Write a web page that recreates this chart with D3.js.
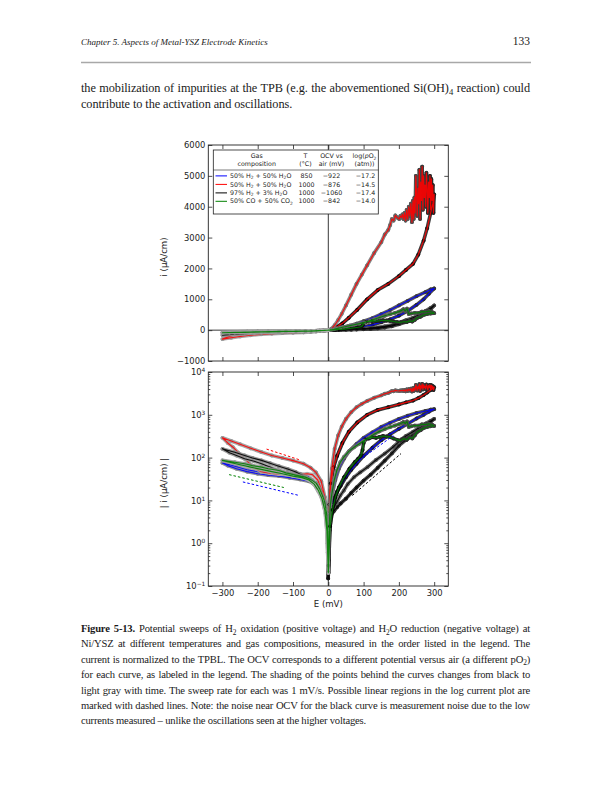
<!DOCTYPE html>
<html><head><meta charset="utf-8">
<script src="https://cdn.jsdelivr.net/npm/d3@7"></script>
<style>body{margin:0;background:#fff}svg{display:block}</style>
</head><body>
<svg id="page" width="612" height="792"></svg>
<script>
// ---------------- DATA ----------------
const xTicks = [-300,-200,-100,0,100,200,300];
const yTicksLin = [-1000,0,1000,2000,3000,4000,5000,6000];
const yTicksLog = [0.1,1,10,100,1000,10000];

const seriesColors = ["#0000ff","#ff0000","#000000","#008000"];
const legendNames = [
  [{t:"50% H"},{t:"2",sub:1},{t:" + 50% H"},{t:"2",sub:1},{t:"O"}],
  [{t:"50% H"},{t:"2",sub:1},{t:" + 50% H"},{t:"2",sub:1},{t:"O"}],
  [{t:"97% H"},{t:"2",sub:1},{t:" + 3% H"},{t:"2",sub:1},{t:"O"}],
  [{t:"50% CO + 50% CO"},{t:"2",sub:1}]
];
const legendT = ["850","1000","1000","1000"];
const legendOCV = ["\u2212922","\u2212876","\u22121060","\u2212842"];
const legendPO2 = ["\u221217.2","\u221214.5","\u221217.4","\u221214.0"];

// Blue: 50% H2 + 50% H2O, 850 C   (E in mV, i in uA/cm)
const blueFwdE = [0,3,8,15,25,35,50,65,80,100,125,150,175,200,225,250,270,285,300];
const blueFwdI = [0.3,2,6,10,16,22,35,52,72,110,170,255,350,470,620,820,1000,1180,1350];
const blueRetE = [290,275,250,225,200,175,150,125,100,80,60,45,30,20,12,6,2,0];
const blueRetI = [1320,1230,1100,950,800,650,520,390,290,210,145,95,55,30,15,6,1.5,0.2];
const blueCatE = [-2,-5,-10,-20,-35,-55,-80,-110,-140,-170,-200,-230,-260,-285,-300,-285,-260,-230,-200,-170,-140,-110,-80,-60,-45,-30,-18,-8,-3,0];
const blueCatI = [-1.5,-4,-8,-15,-23,-28,-31,-34,-37,-39,-42,-47,-55,-65,-75,-70,-61,-52,-47,-44,-43,-42,-42,-38,-30,-22,-13,-5,-1.5,-0.2];

// Red: 50% H2 + 50% H2O, 1000 C
const redFwdE = [0,3,7,15,25,40,58,82,110,140,170,200,220,240,255,270,280,290,296,300];
const redFwdI = [0.3,8,25,60,110,220,400,660,1000,1300,1500,1750,1950,2150,2450,2900,3300,3800,4100,4400];
const redNoiseE = [298,296,294,292,290,288,286,284,282,280,278,276,274,272,270,268,266,264,262,260,258,256,254,252,250,248,246,244,242,240,237,234,231,228,225,222,219,216,213,210,207,204,201];
const redNoiseI = [3800,4700,4200,4900,3900,5000,4300,4800,3800,4600,5100,4000,4700,4300,5000,3900,5300,4200,4800,3600,5200,4100,4600,3700,4400,5000,3800,4300,3600,4200,3500,4100,3700,4000,3600,3900,3550,3800,3600,3750,3650,3700,3600];
const redRetE = [195,190,185,180,175,170,160,150,130,110,95,80,65,50,38,28,18,10,5,2,0];
const redRetI = [3650,3720,3550,3600,3400,3250,3100,2850,2500,2100,1800,1500,1150,800,530,330,160,55,20,5,0.3];
const redCatE = [-2,-5,-10,-20,-35,-50,-70,-100,-130,-160,-190,-220,-250,-275,-300,-285,-270,-255,-240,-225,-210,-190,-165,-140,-110,-80,-60,-45,-30,-18,-8,-3,0];
const redCatI = [-1,-5,-12,-28,-45,-58,-72,-85,-98,-112,-135,-165,-205,-245,-290,-220,-175,-130,-100,-75,-58,-47,-43,-41,-40,-40,-42,-40,-30,-17,-6,-1.5,-0.2];

// Black: 97% H2 + 3% H2O, 1000 C (with OCV noise)
const blackNoiseE = [0.4,-0.8,1.2,-1.5,0.3,2,-2.5,1,-0.3,0.6];
const blackNoiseI = [1.5,-3,4,-0.6,0.2,2.5,-5,0.4,-0.15,0.8];
const blackFwdE = [2,5,10,15,25,35,50,65,80,100,120,140,160,180,200,220,240,260,280,290,300];
const blackFwdI = [2,4,5,5.5,7,8.5,11,15,20,29,40,58,85,125,190,260,340,440,580,680,800];
const blackRetE = [290,275,257,240,220,208,185,160,135,111,90,73,55,44,34,24,16,12,8,4,1,0];
const blackRetI = [720,620,500,400,320,270,180,124,88,60,45,35,24,17,13,9,7,5.5,4,2,0.5,0.2];
const blackCatE = [-2,-5,-10,-15,-25,-35,-50,-63,-80,-92,-115,-140,-165,-189,-215,-237,-265,-300,-280,-260,-237,-210,-189,-165,-140,-115,-92,-70,-53,-40,-30,-20,-12,-6,-2,0];
const blackCatI = [-2,-5,-8,-10,-16,-21,-29,-35,-41,-46,-54,-63,-74,-86,-98,-112,-133,-160,-130,-112,-94,-82,-72,-60,-50,-44,-39,-34,-30,-24,-17,-12,-7,-4,-1.2,-0.2];

// Green: 50% CO + 50% CO2, 1000 C
const greenFwdE = [0,5,12,20,30,45,60,75,85,92,97,100,105,115,125,135,145,155,165,175,185,195,205,214,222,230,238,245,252,262,272,280,290,300];
const greenFwdI = [0.2,2.5,6,12,20,35,55,78,95,110,150,220,265,280,300,290,305,320,310,300,280,260,250,280,260,300,280,330,400,440,500,520,540,550];
const greenRetE = [295,285,275,265,257,245,235,228,223,218,213,208,200,189,175,160,145,131,117,102,88,73,58,44,34,24,17,10,6,3,0];
const greenRetI = [580,620,590,600,560,560,540,520,700,620,680,640,600,560,515,465,410,355,300,250,210,174,140,103,78,50,30,14,8,3,0.3];
const greenCatE = [-2,-5,-10,-15,-25,-34,-50,-65,-92,-120,-140,-170,-189,-215,-237,-265,-300,-280,-250,-220,-190,-160,-130,-100,-75,-55,-40,-28,-18,-10,-4,0];
const greenCatI = [-2,-5,-9,-12,-19,-25,-31,-35,-39,-44,-50,-55,-60,-65,-72,-78,-86,-78,-68,-60,-53,-47,-42,-37,-34,-30,-24,-17,-11,-6,-2,-0.2];

// Dashed "linear region" guides in the log plot (E mV, |i| uA/cm)
const dashRedE = [-175,-82],  dashRedI = [158,89];
const dashGreenE = [-281,-126], dashGreenI = [40,20];
const dashBlueNegE = [-242,-82], dashBlueNegI = [27,13];
const dashBluePosE = [87,184],  dashBluePosI = [86,325];
const dashBlackE = [68,206],    dashBlackI = [13,124];

const headerText = "Chapter 5. Aspects of Metal-YSZ Electrode Kinetics";
const pageNumber = "133";
const bodyLines = [
  [{t:"the mobilization of impurities at the TPB (e.g. the abovementioned Si(OH)"},{t:"4",sub:1},{t:" reaction) could"}],
  [{t:"contribute to the activation and oscillations."}]
];
const captionLines = [
  [{t:"Figure 5-13.",b:1},{t:" Potential sweeps of H"},{t:"2",sub:1},{t:" oxidation (positive voltage) and H"},{t:"2",sub:1},{t:"O reduction (negative voltage) at"}],
  [{t:"Ni/YSZ at different temperatures and gas compositions, measured in the order listed in the legend. The"}],
  [{t:"current is normalized to the TPBL. The OCV corresponds to a different potential versus air (a different pO"},{t:"2",sub:1},{t:")"}],
  [{t:"for each curve, as labeled in the legend. The shading of the points behind the curves changes from black to"}],
  [{t:"light gray with time. The sweep rate for each was 1 mV/s. Possible linear regions in the log current plot are"}],
  [{t:"marked with dashed lines. Note: the noise near OCV for the black curve is measurement noise due to the low"}],
  [{t:"currents measured \u2013 unlike the oscillations seen at the higher voltages."}]
];

// ---------------- BUILD ----------------
const series = [
  {E: blueFwdE.concat(blueRetE, blueCatE), I: blueFwdI.concat(blueRetI, blueCatI), c: seriesColors[0]},
  {E: redFwdE.concat(redNoiseE, redRetE, redCatE), I: redFwdI.concat(redNoiseI, redRetI, redCatI), c: seriesColors[1]},
  {E: blackNoiseE.concat(blackFwdE, blackRetE, blackCatE), I: blackNoiseI.concat(blackFwdI, blackRetI, blackCatI), c: seriesColors[2]},
  {E: greenFwdE.concat(greenRetE, greenCatE), I: greenFwdI.concat(greenRetI, greenCatI), c: seriesColors[3]}
];
const dashes = [
  {E: dashRedE, I: dashRedI, c: seriesColors[1]},
  {E: dashGreenE, I: dashGreenI, c: seriesColors[3]},
  {E: dashBlueNegE, I: dashBlueNegI, c: seriesColors[0]},
  {E: dashBluePosE, I: dashBluePosI, c: seriesColors[0]},
  {E: dashBlackE, I: dashBlackI, c: seriesColors[2]}
];

const SANS = "DejaVu Sans", SERIF = "Liberation Serif";
const svg = d3.select("#page");
svg.append("rect").attr("width",612).attr("height",792).attr("fill","#fff");

function rich(x, y, segs, fs, family) {
  const t = svg.append("text").attr("x",x).attr("y",y).attr("font-family",family)
    .attr("font-size",fs).attr("fill","#1a1a1a");
  let shifted = false;
  segs.forEach(s => {
    const sp = t.append("tspan").text(s.t);
    if (s.b) sp.attr("font-weight","bold");
    if (s.sub) { sp.style("font-size","70%").attr("dy","0.35em"); shifted = true; }
    else if (shifted) { sp.attr("dy","-0.245em"); shifted = false; }
  });
  return t;
}
// keep glyph size, tighten letters so widest line fits, then justify with word spacing
function fitBlock(lines, width) {
  let ls = 0;
  lines.forEach(l => {
    if (!l.j) return;
    const w = l.t.node().getComputedTextLength();
    const n = l.t.text().length;
    ls = Math.min(ls, (width * 0.985 - w) / n);
  });
  lines.forEach(l => l.t.style("letter-spacing", ls + "px"));
  lines.forEach(l => {
    if (!l.j) return;
    const w = l.t.node().getComputedTextLength();
    const n = (l.t.text().match(/ /g) || []).length;
    l.t.style("word-spacing", ((width - w) / n) + "px");
  });
}

// header
const hdr = svg.append("text").attr("x",81).attr("y",45).attr("font-family",SERIF)
  .attr("font-style","italic").attr("font-size",10.5).attr("fill","#1a1a1a").text(headerText);
const hw = hdr.node().getComputedTextLength();
hdr.attr("font-size", 10.5 * 187 / hw);
svg.append("text").attr("x",530).attr("y",45).attr("text-anchor","end").attr("font-family",SERIF)
  .attr("font-size",11.5).attr("fill","#1a1a1a").text(pageNumber);
svg.append("line").attr("x1",81).attr("x2",531).attr("y1",62.5).attr("y2",62.5)
  .attr("stroke","#a8a8a8").attr("stroke-width",1.6);

// body
const bodyT = bodyLines.map((segs,k) => ({t: rich(81, 92 + k*16, segs, 12.3, SERIF), j: k < bodyLines.length - 1}));
fitBlock(bodyT, 449);

// caption
const capT = captionLines.map((segs,k) => ({t: rich(81, 632 + k*15.4, segs, 10.6, SERIF), j: k < captionLines.length - 1}));
fitBlock(capT, 449);

// ---------------- CHART ----------------
const X0 = 208.3, X1 = 448.3;
const T0 = 145, T1 = 361;   // top panel
const B0 = 372, B1 = 586;   // bottom panel
const xS = d3.scaleLinear().domain([-340,340]).range([X0,X1]);
const yLin = d3.scaleLinear().domain([-1000,6000]).range([T1,T0]);
const yLog = d3.scaleLog().domain([0.1,1e4]).range([B1,B0]).clamp(true);
const absLog = v => yLog(Math.max(Math.abs(v), 0.1));

const defs = svg.append("defs");
defs.append("clipPath").attr("id","clipTop").append("rect").attr("x",X0).attr("y",T0).attr("width",X1-X0).attr("height",T1-T0);
defs.append("clipPath").attr("id","clipBot").append("rect").attr("x",X0).attr("y",B0).attr("width",X1-X0).attr("height",B1-B0);

const shade = d3.interpolateRgb("#000000","#b8b8b8");

function drawPanel(clipId, yFn) {
  const g = svg.append("g").attr("clip-path",`url(#${clipId})`);
  series.forEach(s => {
    const pts = s.E.map((e,k) => [xS(e), yFn(s.I[k])]);
    const n = pts.length;
    const segs = d3.pairs(pts.map((p,k)=>[p,k]));
    g.append("g").selectAll("line").data(segs).join("line")
      .attr("x1",d=>d[0][0][0]).attr("y1",d=>d[0][0][1])
      .attr("x2",d=>d[1][0][0]).attr("y2",d=>d[1][0][1])
      .attr("stroke",d=>shade(d[0][1]/(n-1))).attr("stroke-width",3.6)
      .attr("stroke-linecap","round").attr("stroke-opacity",0.85);
    g.append("g").selectAll("circle").data(pts).join("circle")
      .attr("cx",d=>d[0]).attr("cy",d=>d[1]).attr("r",1.9)
      .attr("fill",(d,k)=>shade(k/(n-1))).attr("fill-opacity",0.9);
    g.append("path").attr("d", d3.line()(pts)).attr("fill","none")
      .attr("stroke", s.c).attr("stroke-width",1.15).attr("stroke-opacity",0.9).attr("stroke-linejoin","round");
  });
  return g;
}

// zero lines
svg.append("line").attr("x1",X0).attr("x2",X1).attr("y1",yLin(0)).attr("y2",yLin(0)).attr("stroke","#222").attr("stroke-width",0.9);
svg.append("line").attr("x1",xS(0)).attr("x2",xS(0)).attr("y1",T0).attr("y2",T1).attr("stroke","#222").attr("stroke-width",0.9);
svg.append("line").attr("x1",xS(0)).attr("x2",xS(0)).attr("y1",B0).attr("y2",B1).attr("stroke","#222").attr("stroke-width",0.9);

drawPanel("clipTop", v => yLin(v));
const gB = drawPanel("clipBot", absLog);
dashes.forEach(d => {
  gB.append("path").attr("d", d3.line()(d.E.map((e,k)=>[xS(e), yLog(d.I[k])])))
    .attr("fill","none").attr("stroke",d.c).attr("stroke-width",1).attr("stroke-dasharray","2.5,2");
});

// axes
function styleAxis(g) {
  g.select(".domain").remove();
  g.attr("font-family",SANS).attr("font-size",8.4);
  g.selectAll(".tick line").attr("stroke","#222").attr("stroke-width",0.8);
  g.selectAll("text").attr("fill","#222");
}
const fmt = d3.format("d");
const minorVals = [];
[0.1,1,10,100,1000].forEach(b => { for (let m=2;m<=9;m++) minorVals.push(b*m); });

// top panel
svg.append("g").attr("transform",`translate(${X0},0)`).call(d3.axisLeft(yLin).tickValues(yTicksLin).tickSize(-4).tickPadding(3).tickFormat(fmt)).call(styleAxis);
svg.append("g").attr("transform",`translate(${X1},0)`).call(d3.axisRight(yLin).tickValues(yTicksLin).tickSize(-4).tickFormat("")).call(styleAxis);
svg.append("g").attr("transform",`translate(0,${T0})`).call(d3.axisTop(xS).tickValues(xTicks).tickSize(-4).tickFormat("")).call(styleAxis);
svg.append("g").attr("transform",`translate(0,${T1})`).call(d3.axisBottom(xS).tickValues(xTicks).tickSize(-4).tickFormat("")).call(styleAxis);

// bottom panel
const gl = svg.append("g").attr("transform",`translate(${X0},0)`).call(d3.axisLeft(yLog).tickValues(yTicksLog).tickSize(-4).tickPadding(3).tickFormat(()=>"")).call(styleAxis);
gl.selectAll(".tick text").each(function(d){
  const s = d3.select(this);
  const e = Math.round(Math.log10(d));
  s.append("tspan").text("10");
  s.append("tspan").attr("dy","-0.5em").style("font-size","70%").text(e < 0 ? "\u2212" + (-e) : String(e));
});
svg.append("g").attr("transform",`translate(${X0},0)`).call(d3.axisLeft(yLog).tickValues(minorVals).tickSize(-2).tickFormat("")).call(styleAxis);
svg.append("g").attr("transform",`translate(${X1},0)`).call(d3.axisRight(yLog).tickValues(yTicksLog).tickSize(-4).tickFormat("")).call(styleAxis);
svg.append("g").attr("transform",`translate(${X1},0)`).call(d3.axisRight(yLog).tickValues(minorVals).tickSize(-2).tickFormat("")).call(styleAxis);
svg.append("g").attr("transform",`translate(0,${B0})`).call(d3.axisTop(xS).tickValues(xTicks).tickSize(-4).tickFormat("")).call(styleAxis);
svg.append("g").attr("transform",`translate(0,${B1})`).call(d3.axisBottom(xS).tickValues(xTicks).tickSize(-4).tickPadding(4).tickFormat(fmt)).call(styleAxis);

// frames
svg.append("rect").attr("x",X0).attr("y",T0).attr("width",X1-X0).attr("height",T1-T0).attr("fill","none").attr("stroke","#222").attr("stroke-width",0.9);
svg.append("rect").attr("x",X0).attr("y",B0).attr("width",X1-X0).attr("height",B1-B0).attr("fill","none").attr("stroke","#222").attr("stroke-width",0.9);

// axis labels
svg.append("text").attr("transform",`translate(167,${(T0+T1)/2+4}) rotate(-90)`).attr("text-anchor","middle")
  .attr("font-family",SANS).attr("font-size",8.6).attr("fill","#222").text("i (\u03bcA/cm)");
svg.append("text").attr("transform",`translate(167,${(B0+B1)/2+4}) rotate(-90)`).attr("text-anchor","middle")
  .attr("font-family",SANS).attr("font-size",8.6).attr("fill","#222").text("| i (\u03bcA/cm) |");
svg.append("text").attr("x",xS(0)).attr("y",606.5).attr("text-anchor","middle")
  .attr("font-family",SANS).attr("font-size",8.6).attr("fill","#222").text("E (mV)");

// legend table
const LX = 213.3, LY = 150, LW = 165, LH = 64;
const lg = svg.append("g").attr("font-family",SANS).attr("font-size",6.3).attr("fill","#222");
lg.append("rect").attr("x",LX).attr("y",LY).attr("width",LW).attr("height",LH).attr("fill","#fff").attr("stroke","#222").attr("stroke-width",0.8);
lg.append("line").attr("x1",LX).attr("x2",LX+LW).attr("y1",LY+20).attr("y2",LY+20).attr("stroke","#222").attr("stroke-width",0.6);
const colX = [256.7, 305.5, 331.5, 364.5];
const head1 = ["Gas","T","OCV vs",null];
const head2 = ["composition","(\u00b0C)","air (mV)","(atm))"];
head1.forEach((h,k)=>{ if(h) lg.append("text").attr("x",colX[k]).attr("y",LY+8.2).attr("text-anchor","middle").text(h); });
const lp = lg.append("text").attr("x",colX[3]).attr("y",LY+8.2).attr("text-anchor","middle");
lp.append("tspan").text("log(");
lp.append("tspan").attr("font-style","italic").text("p");
lp.append("tspan").text("O");
lp.append("tspan").attr("dy","0.3em").style("font-size","70%").text("2");
head2.forEach((h,k)=> lg.append("text").attr("x",colX[k]).attr("y",LY+16.3).attr("text-anchor","middle").text(h));
const rowY = [178, 186.5, 195, 203.4];
seriesColors.forEach((c,k)=>{
  lg.append("line").attr("x1",215.5).attr("x2",227).attr("y1",rowY[k]-2.1).attr("y2",rowY[k]-2.1).attr("stroke",c).attr("stroke-width",1);
  const t = lg.append("text").attr("x",230).attr("y",rowY[k]);
  let shifted=false;
  legendNames[k].forEach(s=>{
    const sp = t.append("tspan").text(s.t);
    if (s.sub) { sp.style("font-size","70%").attr("dy","0.3em"); shifted=true; }
    else if (shifted) { sp.attr("dy","-0.21em"); shifted=false; }
  });
  lg.append("text").attr("x",colX[1]+1).attr("y",rowY[k]).attr("text-anchor","middle").text(legendT[k]);
  lg.append("text").attr("x",colX[2]).attr("y",rowY[k]).attr("text-anchor","middle").text(legendOCV[k]);
  lg.append("text").attr("x",colX[3]+1).attr("y",rowY[k]).attr("text-anchor","middle").text(legendPO2[k]);
});
</script>
</body></html>
